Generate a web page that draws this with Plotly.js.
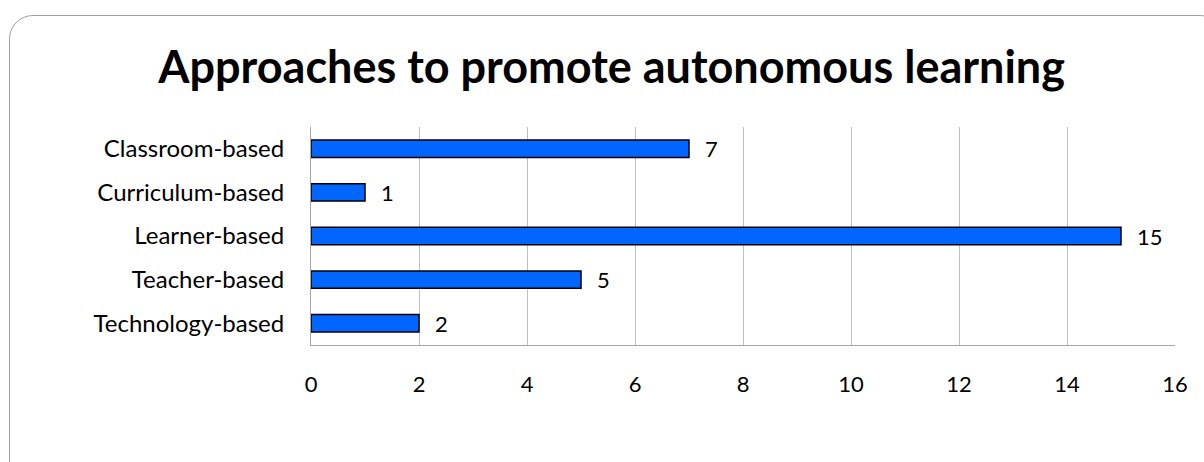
<!DOCTYPE html>
<html><head><meta charset="utf-8">
<script src="https://cdn.plot.ly/plotly-3.0.1.min.js"></script>
<style>
html,body{margin:0;padding:0;background:#fff;overflow:hidden;}
#frame{position:absolute;left:9px;top:15px;width:1215px;height:470px;border:1.5px solid #a0a0a0;border-radius:24px;box-sizing:border-box;}
#chart{position:absolute;left:0;top:0;width:1204px;height:462px;}
</style></head>
<body>
<div id="frame"></div>
<div id="chart"></div>
<script>
const categories = ["Classroom-based", "Curriculum-based", "Learner-based", "Teacher-based", "Technology-based"];
const values = [7, 1, 15, 5, 2];
const xTicks = [0, 2, 4, 6, 8, 10, 12, 14, 16];

const FONT = "Lato, Carlito, Calibri, sans-serif";

const trace = {
  type: "bar",
  orientation: "h",
  y: categories,
  x: values,
  width: 0.4,
  marker: {color: "#0066FF", line: {color: "#000000", width: 1.5}},
  hoverinfo: "none"
};

const annotations = categories.map((c, i) => ({
  x: values[i], y: c, xref: "x", yref: "y",
  text: String(values[i]), showarrow: false,
  xanchor: "left", xshift: 14,
  font: {family: FONT, size: 22, color: "#000"}
}));

const layout = {
  width: 1204, height: 462,
  margin: {l: 311, r: 29, t: 127, b: 117},
  paper_bgcolor: "rgba(0,0,0,0)",
  plot_bgcolor: "rgba(0,0,0,0)",
  showlegend: false,
  title: {
    text: "<b>Approaches to promote autonomous learning</b>",
    x: 0.508, xanchor: "center", y: 0.855, yanchor: "middle",
    font: {family: FONT, size: 45, color: "#000"}
  },
  xaxis: {
    range: [0, 16],
    tickvals: xTicks,
    ticktext: xTicks.map(String),
    showgrid: true, gridcolor: "#c0c0c0", gridwidth: 1,
    zeroline: false,
    showline: true, linecolor: "#a6a6a6", linewidth: 1,
    ticks: "", ticklabelstandoff: 20,
    tickfont: {family: FONT, size: 22, color: "#000"},
    fixedrange: true
  },
  yaxis: {
    autorange: "reversed",
    showgrid: false, zeroline: false,
    showline: true, linecolor: "#a6a6a6", linewidth: 1,
    ticks: "", ticklabelstandoff: 21,
    tickfont: {family: FONT, size: 24, color: "#000"},
    fixedrange: true
  },
  annotations: annotations
};

Plotly.newPlot("chart", [trace], layout, {displayModeBar: false, staticPlot: true});
</script>
</body></html>
